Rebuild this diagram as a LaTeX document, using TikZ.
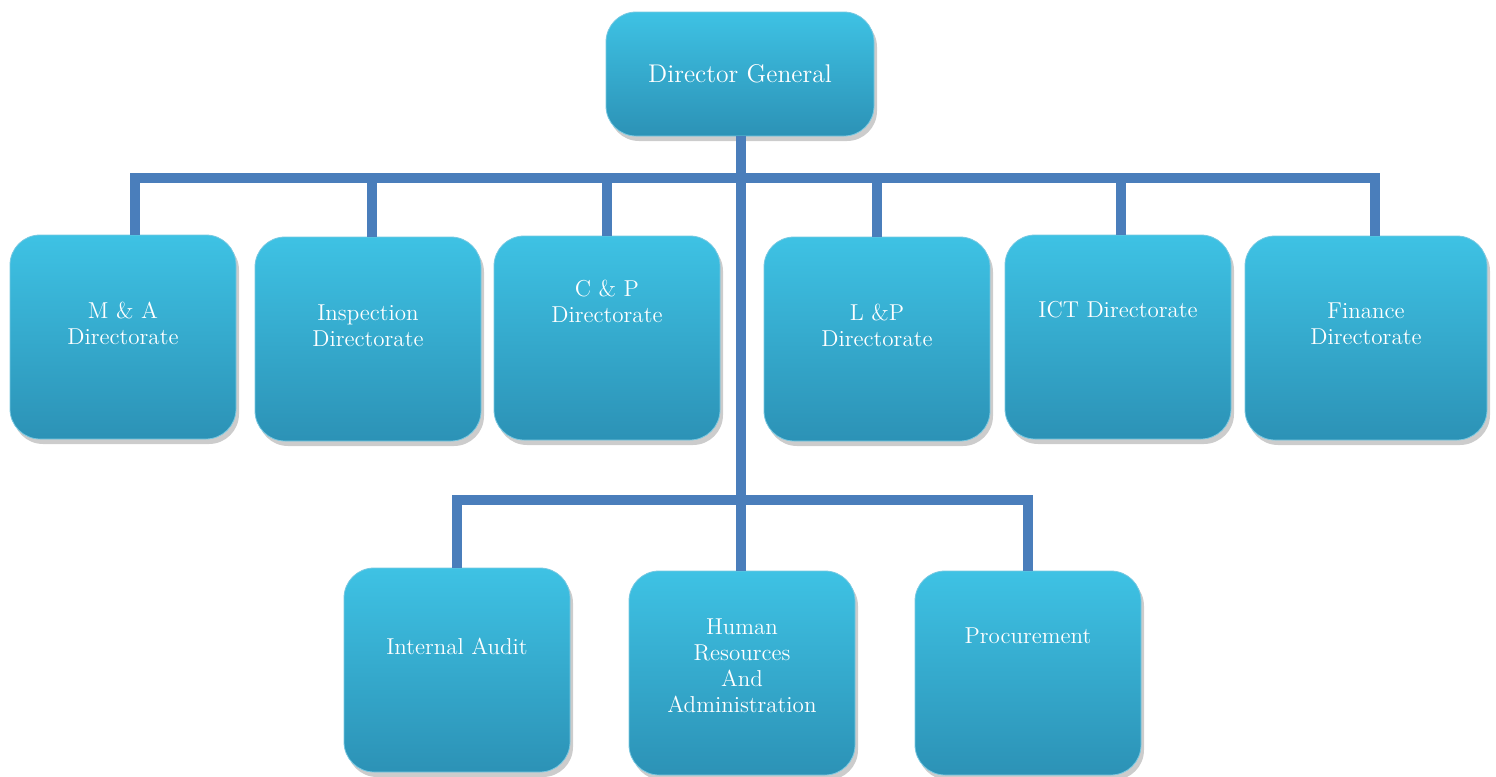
\documentclass[tikz,border=0pt]{standalone}
\usepackage{xcolor}
\usepackage{tikz}
\usetikzlibrary{positioning, shapes, arrows.meta, calc, shadows}

\definecolor{boxtop}{RGB}{62,194,228}
\definecolor{boxbottom}{RGB}{44,146,182}
\definecolor{boxline}{RGB}{120,200,225}
\definecolor{linkblue}{RGB}{74,126,187}

\begin{document}
\begin{tikzpicture}[
    x=0.5pt, y=-0.5pt,
    unit/.style={rectangle, draw=boxline, thin, rounded corners=15pt, minimum width=113pt, minimum height=102pt, align=center, top color=boxtop, bottom color=boxbottom, drop shadow={shadow xshift=1.5pt, shadow yshift=-2.5pt, opacity=0.4}, text=white, font=\fontsize{11.5}{13}\selectfont},
    head/.style={unit, minimum width=134pt, minimum height=62pt, font=\fontsize{12.8}{15}\selectfont},
    textup/.style={text depth=#1},
    link/.style={line width=5pt, linkblue, line join=miter}
]
    \useasboundingbox (0,0) rectangle (1496,777);

    % top
    \node[head] (dg) at (740,74) {Director General};

    % directorates
    \node[unit, textup=14pt] (ma) at (123,337) {M \& A\\Directorate};
    \node[unit, textup=13pt] (insp) at (368,339) {Inspection\\Directorate};
    \node[unit, textup=37pt] (cp) at (607,338) {C \& P\\Directorate};
    \node[unit, textup=14pt] (lp) at (877,339) {L \&P\\Directorate};
    \node[unit, textup=28pt] (ict) at (1118,337) {ICT Directorate};
    \node[unit, minimum width=121pt, textup=14pt] (fin) at (1366,338) {Finance\\Directorate};

    % units
    \node[unit, textup=24pt] (audit) at (457,670) {Internal Audit};
    \node[unit, textup=7pt] (hr) at (742,673) {Human\\Resources\\And\\Administration};
    \node[unit, textup=37pt] (proc) at (1028,673) {Procurement};

    \coordinate (bar) at (741,178);
    \coordinate (lowbar) at (741,500);

    \draw[link] (dg.south -| bar) -- (hr.north -| bar);
    \draw[link] ([xshift=6pt]ma.north) |- (bar) -| ([xshift=4.5pt]fin.north);
    \draw[link] ([xshift=2pt]insp.north) -- ([xshift=2pt]insp.north |- bar);
    \draw[link] (cp.north) -- (cp.north |- bar);
    \draw[link] (lp.north) -- (lp.north |- bar);
    \draw[link] ([xshift=1.5pt]ict.north) -- ([xshift=1.5pt]ict.north |- bar);
    \draw[link] (audit.north) |- (lowbar) -| (proc.north);
\end{tikzpicture}
\end{document}
